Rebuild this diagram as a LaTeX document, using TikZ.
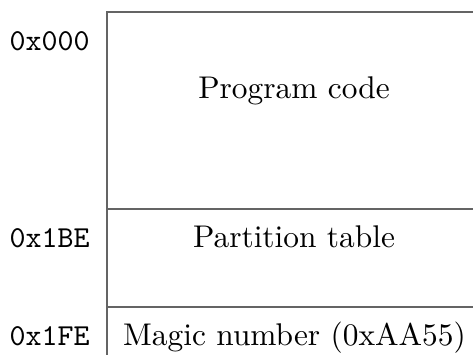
\documentclass[tikz,border=0pt]{standalone}
\begin{document}
\begin{tikzpicture}[x=0.3283pt,y=-0.3283pt,
  rule/.style={draw={rgb,255:red,100;green,100;blue,100},line width=0.45pt},
  addr/.style={anchor=base west,inner sep=0pt,font=\ttfamily},
  field/.style={anchor=base,inner sep=0pt,font=\fontsize{10.3}{12}\selectfont}]
\useasboundingbox (0,0) rectangle (473,355);
% frame of the sector layout
\coordinate (tl) at (107,12);
\coordinate (tr) at (473,12);
\coordinate (bl) at (107,355);
\coordinate (ml) at (107,209);
\coordinate (mr) at (473,209);
\coordinate (nl) at (107,307);
\coordinate (nr) at (473,307);
\draw[rule] (tr) -- (tl) -- (bl);
\draw[rule] (ml) -- (mr);
\draw[rule] (nl) -- (nr);
% offsets
\node[addr] (a0) at (9,50) {0x000};
\node[addr] (a1) at (9,247) {0x1BE};
\node[addr] (a2) at (9,345) {0x1FE};
% fields
\node[field] (f0) at (294,98) {Program code};
\node[field] (f1) at (294,247) {Partition table};
\node[field] (f2) at (294.5,345) {Magic number (0xAA55)};
\end{tikzpicture}
\end{document}
